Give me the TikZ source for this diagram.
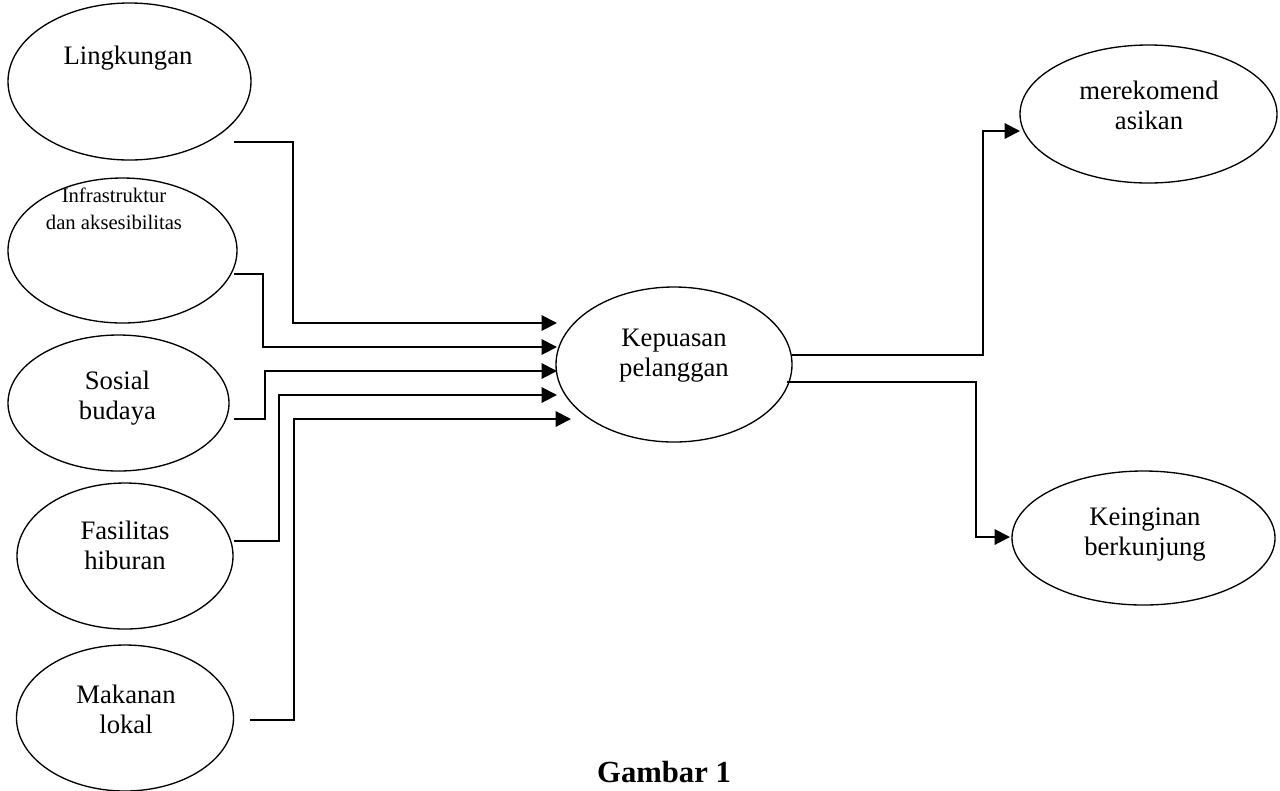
\documentclass[tikz,border=0pt]{standalone}
\usepackage{fontspec}
\setmainfont{Liberation Serif}
\usetikzlibrary{arrows.meta,shapes.geometric}
\begin{document}
\begin{tikzpicture}[x=0.75pt,y=-0.75pt,
  bubble/.style={ellipse,draw,line width=1pt,inner sep=0pt,outer sep=0pt},
  lbl/.style={font=\fontsize{20}{22.5}\selectfont,align=center,inner sep=0pt},
  smalllbl/.style={font=\fontsize{15.5}{20}\selectfont,align=center,inner sep=0pt},
  conn/.style={line width=1.5pt,-{Triangle[length=11.5pt,width=11.5pt]}},
  titletext/.style={font=\fontsize{23}{28}\selectfont\bfseries,inner sep=0pt}
]
\path[use as bounding box,fill=white] (0,0) rectangle (1280,790);

% ellipses
\node[bubble,minimum width=182.25pt,minimum height=117.75pt] (lingk) at (129.5,81.5) {};
\node[bubble,minimum width=171.75pt,minimum height=108.75pt] (infra) at (122.5,250.5) {};
\node[bubble,minimum width=165.75pt,minimum height=102pt] (sosial) at (118.5,403) {};
\node[bubble,minimum width=162pt,minimum height=109.5pt] (fasil) at (125,556) {};
\node[bubble,minimum width=162.75pt,minimum height=109.5pt] (makan) at (125,718) {};
\node[bubble,minimum width=177pt,minimum height=116.25pt] (kep) at (674,364.5) {};
\node[bubble,minimum width=192.75pt,minimum height=103.5pt] (rekom) at (1148.5,114) {};
\node[bubble,minimum width=197.25pt,minimum height=100.5pt] (ingin) at (1143.5,538) {};

% texts
\node[lbl] (tlingk) at (128,58.5) {Lingkungan};
\node[smalllbl] (tinfra) at (114,208.5) {Infrastruktur\\dan aksesibilitas};
\node[lbl] (tsosial) at (117.5,398.5) {Sosial\\budaya};
\node[lbl] (tfasil) at (125,545) {Fasilitas\\hiburan};
\node[lbl] (tmakan) at (126,709.5) {Makanan\\lokal};
\node[lbl] (tkep) at (674,355.5) {Kepuasan\\pelanggan};
\node[lbl] (trekom) at (1149,105) {merekomend\\asikan};
\node[lbl] (tingin) at (1145,534.5) {Keinginan\\berkunjung};
\node[titletext,anchor=base] (gambar) at (664,782) {Gambar 1};

% connector end points
\coordinate (s1) at (234,142);
\coordinate (s2) at (234,274);
\coordinate (s3) at (234,419);
\coordinate (s4) at (234,541);
\coordinate (s5) at (250,720);
\coordinate (e1) at (557,323);
\coordinate (e2) at (557,347);
\coordinate (e3) at (557,371);
\coordinate (e4) at (557,395);
\coordinate (e5) at (571,419);
\coordinate (s6) at (792,355);
\coordinate (s7) at (787,382);
\coordinate (e6) at (1020,131);
\coordinate (e7) at (1010,537);

\draw[conn] (s1) -- (293,142) -- (293,323) -- (e1);
\draw[conn] (s2) -- (263,274) -- (263,347) -- (e2);
\draw[conn] (s3) -- (265,419) -- (265,371) -- (e3);
\draw[conn] (s4) -- (279,541) -- (279,395) -- (e4);
\draw[conn] (s5) -- (294,720) -- (294,419) -- (e5);
\draw[conn] (s6) -- (983,355) -- (983,131) -- (e6);
\draw[conn] (s7) -- (976,382) -- (976,537) -- (e7);
\end{tikzpicture}
\end{document}
